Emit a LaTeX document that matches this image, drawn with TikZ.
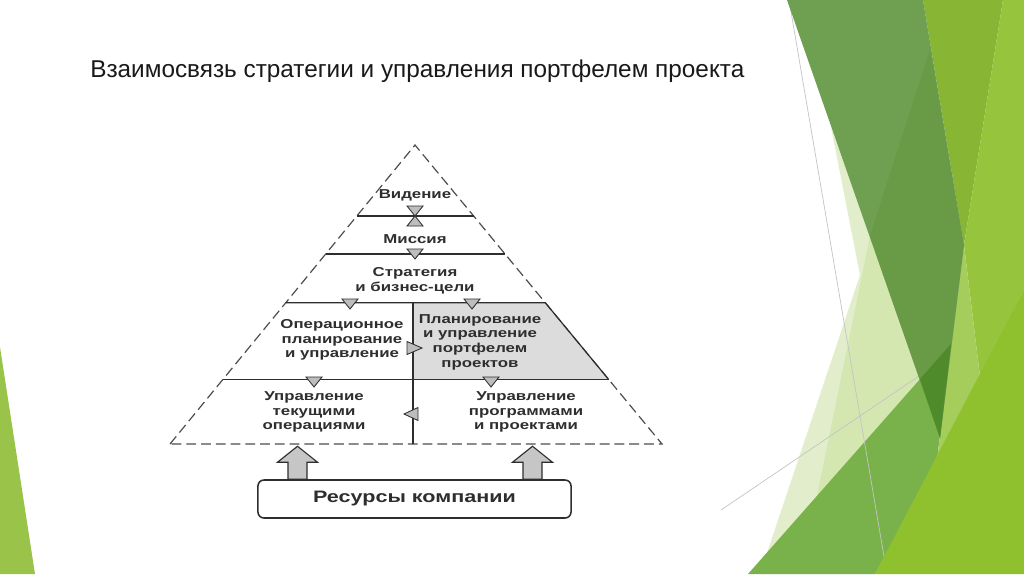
\documentclass[tikz,border=0pt]{standalone}
\usepackage{fontspec}
\setmainfont{Liberation Sans}
\newfontfamily\pyrfont[FakeStretch=1.3]{Liberation Sans}
\usepackage{tikz}
\usetikzlibrary{positioning,calc}

\definecolor{ink}{HTML}{2E2E2E}
\definecolor{trigray}{HTML}{BDBDBD}
\definecolor{cellgray}{HTML}{DCDCDC}
\definecolor{arrgray}{HTML}{C6C6C6}
\definecolor{gPale}{HTML}{E2EECB}
\definecolor{gPaleB}{HTML}{D4E7B1}
\definecolor{gBand}{HTML}{6F9F50}
\definecolor{gBandB}{HTML}{699A45}
\definecolor{gYel}{HTML}{88B534}
\definecolor{gLime}{HTML}{97C43D}
\definecolor{gLimeL}{HTML}{A5CD5C}
\definecolor{gLimeB}{HTML}{8FC02E}
\definecolor{gMid}{HTML}{79B24A}
\definecolor{gDeep}{HTML}{4F8B2B}
\definecolor{gLeft}{HTML}{9AC34A}
\definecolor{gLine}{HTML}{C4C4C4}

\begin{document}
\begin{tikzpicture}
[x=0.025cm, y=-0.025cm,
 lbl/.style={font=\pyrfont\bfseries\fontsize{9.2}{10.4}\selectfont, text=ink, align=center, inner sep=0pt},
 solidln/.style={draw=ink, line width=0.85pt},
 dashln/.style={draw=ink!85, line width=0.85pt, dash pattern=on 7pt off 3.5pt},
 tri/.style={draw=ink, fill=trigray, line width=0.6pt},
 tridown/.pic={\draw[tri] (0,0) -- (-8,-10) -- (8,-10) -- cycle;},
 triup/.pic={\draw[tri] (0,0) -- (-8,10) -- (8,10) -- cycle;},
 triright/.pic={\draw[tri] (0,0) -- (-15,-6.5) -- (-15,6.5) -- cycle;},
 trileft/.pic={\draw[tri] (0,0) -- (14,-6.5) -- (14,6.5) -- cycle;},
 resbox/.style={draw=ink, line width=1.1pt, rounded corners=0.15cm, minimum width=7.825cm, minimum height=0.95cm, font=\pyrfont\bfseries\fontsize{11.8}{14}\selectfont, text=ink},
 blockarr/.style={draw=ink, fill=arrgray, line width=0.8pt, line join=miter},
 bgline/.style={draw=gLine, line width=0.5pt}]

\useasboundingbox (0,0) rectangle (1024,574);
\fill[white] (0,0) rectangle (1024,574);

% slide background
\fill[gLeft] (0,347) -- (35,574) -- (0,574) -- cycle;
\fill[gPale] (831,127) -- (945,440) -- (760,574) -- (860,275) -- cycle;
\fill[gPaleB] (870,236) -- (921,379) -- (810,530) -- cycle;
\fill[gMid] (748,574) -- (951,344) -- (937,460) -- (875,574) -- cycle;
\draw[bgline] (721,510) -- (919,376);
\draw[bgline] (789,0) -- (887,574);
\fill[gYel] (923,0) -- (1003,0) -- (964,245) -- cycle;
\fill[gLime] (1003,0) -- (1024,0) -- (1024,290) -- (980,377) -- (964,245) -- cycle;
\fill[gLimeL] (964,245) -- (980,377) -- (937,460) -- cycle;
\fill[gLimeB] (875,574) -- (1024,290) -- (1024,574) -- cycle;
\fill[gBand] (787,0) -- (923,0) -- (964,245) -- (940,438) -- cycle;
\fill[gBandB] (930,50) -- (964,245) -- (940,438) -- (870,236) -- cycle;
\fill[gDeep] (920,379) -- (951,344) -- (940,438) -- cycle;

\node (title) at (90,77) [anchor=base west, inner sep=0pt, font=\fontsize{17.3}{20}\selectfont, text=black!90] {Взаимосвязь стратегии и управления портфелем проекта};

% pyramid
\coordinate (apex) at (415,145);
\coordinate (bl) at (170,444);
\coordinate (br) at (662,444);
\foreach \t/\n in {0.2375/a,0.3645/b,0.5274/c,0.7843/d}{
  \coordinate (L\n) at ($(apex)!\t!(bl)$);
  \coordinate (R\n) at ($(apex)!\t!(br)$);
}
\coordinate (mtop) at (413,302.7);
\coordinate (mbot) at (413,444);

\fill[cellgray] (mtop) -- (Rc) -- (Rd) -- (mtop |- Rd) -- cycle;
\draw[dashln] (bl) -- (apex) -- (br) -- cycle;
\draw[solidln] (La) -- (Ra);
\draw[solidln] (Lb) -- (Rb);
\draw[solidln] (Lc) -- (Rc) -- (Rd);
\draw[solidln] (Ld) -- (Rd);
\draw[solidln] (mtop) -- (mbot);

\node (vision) at (415,195) [lbl] {Видение};
\node (mission) at (415,239) [lbl] {Миссия};
\node (strat) at (415,280.5) [lbl] {Стратегия\\и бизнес-цели};
\node (opplan) at (342,340) [lbl] {Операционное\\планирование\\и управление};
\node (portf) at (480,342) [lbl] {Планирование\\и управление\\портфелем\\проектов};
\node (curops) at (314,412) [lbl] {Управление\\текущими\\операциями};
\node (progs) at (526,412) [lbl] {Управление\\программами\\и проектами};

\pic at (415,216) {tridown};
\pic at (415,216) {triup};
\pic at (415,259) {tridown};
\pic at (350,309) {tridown};
\pic at (472,309) {tridown};
\pic at (314,387) {tridown};
\pic at (491,387) {tridown};
\pic at (422,348) {triright};
\pic at (404,414) {trileft};

% resources
\node (res) at (414.5,499) [resbox] {Ресурсы компании};
\path (res.north) ++(-117,0) coordinate (arrL);
\path (res.north) ++(118,0) coordinate (arrR);
\draw[blockarr] (arrL) ++(-9.5,0) -- ++(0,-17) -- ++(-10.5,0) -- ++(20,-16) -- ++(20,16) -- ++(-10.5,0) -- ++(0,17) -- cycle;
\draw[blockarr] (arrR) ++(-9.5,0) -- ++(0,-17) -- ++(-10.5,0) -- ++(20,-16) -- ++(20,16) -- ++(-10.5,0) -- ++(0,17) -- cycle;

\end{tikzpicture}
\end{document}
